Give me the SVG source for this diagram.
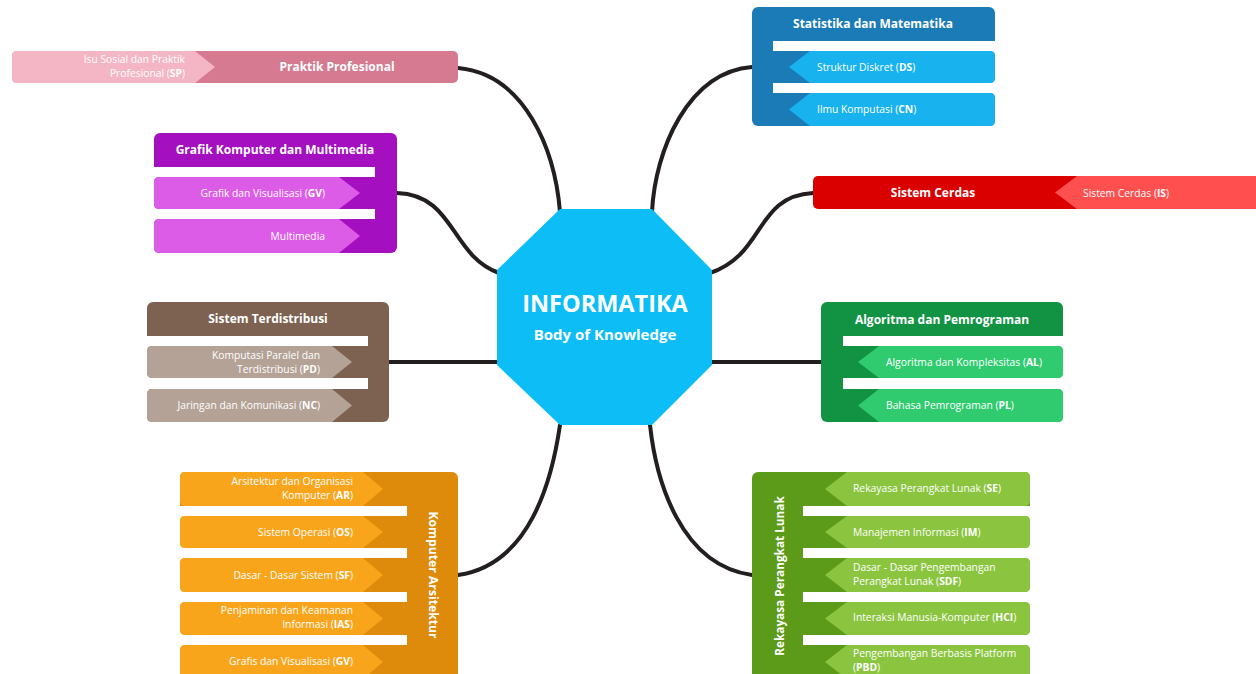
<svg xmlns="http://www.w3.org/2000/svg" width="1256" height="674" viewBox="0 0 1256 674">
<style>
text{font-family:"Open Sans","Liberation Sans",sans-serif;fill:#fff}
.h{font-size:12px;font-weight:700;text-anchor:middle}
.i{font-size:10.3px}
.r{text-anchor:end}
.b{font-weight:700}
.conn{fill:none;stroke:#231f20;stroke-width:4;stroke-linecap:round}
</style>
<rect width="1256" height="674" fill="#fff"/>
<g id="connectors">
<path class="conn" d="M458,68 C525,74 555,150 560,212"/>
<path class="conn" d="M397,193 C455,195 450,255 499,273"/>
<path class="conn" d="M389,362 H499"/>
<path class="conn" d="M458,575 C530,565 552,480 560,425"/>
<path class="conn" d="M752,67 C688,72 655,150 652,212"/>
<path class="conn" d="M813,193 C755,196 765,255 710,273"/>
<path class="conn" d="M710,362 H821"/>
<path class="conn" d="M752,575 C680,565 656,480 650,425"/>
</g>
<g id="center">
<polygon points="560,209 652,209 712,270 712,365 652,425 560,425 497,365 497,270" fill="#0dbdf6"/>
<text x="605" y="312" style="font-size:23.5px;font-weight:700;text-anchor:middle">INFORMATIKA</text>
<text x="605" y="340" style="font-size:15px;font-weight:700;text-anchor:middle">Body of Knowledge</text>
</g>
<g id="praktik-profesional">
<rect x="12" y="51" width="446" height="32" rx="5" fill="#d57a91"/>
<path d="M17,51 H195 L215,67 L195,83 H17 Q12,83 12,78 V56 Q12,51 17,51 Z" fill="#f4b5c4"/>
<text class="h" x="337" y="71">Praktik Profesional</text>
<text class="i r" x="185" y="63">Isu Sosial dan Praktik</text>
<text class="i r" x="185" y="77">Profesional (<tspan class="b">SP</tspan>)</text>
</g>
<g id="grafik-komputer">
<rect x="154" y="133" width="243" height="120" rx="6" fill="#a40fbf"/>
<rect x="154" y="167" width="221" height="86" fill="#fff"/>
<rect x="154" y="177" width="229" height="32" rx="5" fill="#a40fbf"/>
<path d="M159,177 H339 L360,193 L339,209 H159 Q154,209 154,204 V182 Q154,177 159,177 Z" fill="#dc5ce7"/>
<rect x="154" y="219" width="229" height="34" rx="5" fill="#a40fbf"/>
<path d="M159,219 H339 L360,236 L339,253 H159 Q154,253 154,248 V224 Q154,219 159,219 Z" fill="#dc5ce7"/>
<text class="h" x="275" y="154">Grafik Komputer dan Multimedia</text>
<text class="i r" x="325" y="197">Grafik dan Visualisasi (<tspan class="b">GV</tspan>)</text>
<text class="i r" x="325" y="240">Multimedia</text>
</g>
<g id="sistem-terdistribusi">
<rect x="147" y="302" width="242" height="120" rx="6" fill="#7e6251"/>
<rect x="147" y="336" width="221" height="86" fill="#fff"/>
<rect x="147" y="346" width="229" height="32" rx="5" fill="#7e6251"/>
<path d="M152,346 H332 L352,362 L332,378 H152 Q147,378 147,373 V351 Q147,346 152,346 Z" fill="#b4a296"/>
<rect x="147" y="389" width="229" height="33" rx="5" fill="#7e6251"/>
<path d="M152,389 H332 L352,405.5 L332,422 H152 Q147,422 147,417 V394 Q147,389 152,389 Z" fill="#b4a296"/>
<text class="h" x="268" y="323">Sistem Terdistribusi</text>
<text class="i r" x="320" y="359">Komputasi Paralel dan</text>
<text class="i r" x="320" y="373">Terdistribusi (<tspan class="b">PD</tspan>)</text>
<text class="i r" x="320" y="409">Jaringan dan Komunikasi (<tspan class="b">NC</tspan>)</text>
</g>
<g id="komputer-arsitektur">
<rect x="180" y="472" width="278" height="220" rx="6" fill="#de8a0b"/>
<rect x="180" y="506" width="227" height="190" fill="#fff"/>
<rect x="180" y="472" width="235" height="34" rx="5" fill="#de8a0b"/>
<path d="M185,472 H363 L383,489 L363,506 H185 Q180,506 180,501 V477 Q180,472 185,472 Z" fill="#f9a51b"/>
<rect x="180" y="516" width="235" height="32" rx="5" fill="#de8a0b"/>
<path d="M185,516 H363 L383,532 L363,548 H185 Q180,548 180,543 V521 Q180,516 185,516 Z" fill="#f9a51b"/>
<rect x="180" y="558" width="235" height="34" rx="5" fill="#de8a0b"/>
<path d="M185,558 H363 L383,575 L363,592 H185 Q180,592 180,587 V563 Q180,558 185,558 Z" fill="#f9a51b"/>
<rect x="180" y="602" width="235" height="33" rx="5" fill="#de8a0b"/>
<path d="M185,602 H363 L383,618.5 L363,635 H185 Q180,635 180,630 V607 Q180,602 185,602 Z" fill="#f9a51b"/>
<rect x="180" y="645" width="235" height="34" rx="5" fill="#de8a0b"/>
<path d="M185,645 H363 L383,662 L363,679 H185 Q180,679 180,674 V650 Q180,645 185,645 Z" fill="#f9a51b"/>
<text class="i r" x="353" y="485">Arsitektur dan Organisasi</text>
<text class="i r" x="353" y="499">Komputer (<tspan class="b">AR</tspan>)</text>
<text class="i r" x="353" y="536">Sistem Operasi (<tspan class="b">OS</tspan>)</text>
<text class="i r" x="353" y="579">Dasar - Dasar Sistem (<tspan class="b">SF</tspan>)</text>
<text class="i r" x="353" y="614">Penjaminan dan Keamanan</text>
<text class="i r" x="353" y="628">Informasi (<tspan class="b">IAS</tspan>)</text>
<text class="i r" x="353" y="665">Grafis dan Visualisasi (<tspan class="b">GV</tspan>)</text>
<text class="h" transform="translate(433,575) rotate(90)" dominant-baseline="central" style="font-size:12.2px">Komputer Arsitektur</text>
</g>
<g id="statistika-matematika">
<rect x="752" y="7" width="243" height="119" rx="6" fill="#1b7bb7"/>
<rect x="773" y="41" width="222" height="85" fill="#fff"/>
<rect x="765" y="51" width="230" height="32" rx="5" fill="#1b7bb7"/>
<path d="M810,51 H990 Q995,51 995,56 V78 Q995,83 990,83 H810 L789,67 Z" fill="#18b3ef"/>
<rect x="765" y="93" width="230" height="33" rx="5" fill="#1b7bb7"/>
<path d="M810,93 H990 Q995,93 995,98 V121 Q995,126 990,126 H810 L789,109.5 Z" fill="#18b3ef"/>
<text class="h" x="873" y="28">Statistika dan Matematika</text>
<text class="i" x="817" y="71">Struktur Diskret (<tspan class="b">DS</tspan>)</text>
<text class="i" x="817" y="113">Ilmu Komputasi (<tspan class="b">CN</tspan>)</text>
</g>
<g id="sistem-cerdas">
<rect x="813" y="176" width="460" height="33" rx="5" fill="#da0000"/>
<path d="M1077,176 H1262 V209 H1077 L1055,192.5 Z" fill="#ff4f4f"/>
<text class="h" x="933" y="197">Sistem Cerdas</text>
<text class="i" x="1083" y="197">Sistem Cerdas (<tspan class="b">IS</tspan>)</text>
</g>
<g id="algoritma-pemrograman">
<rect x="821" y="302" width="242" height="120" rx="6" fill="#129343"/>
<rect x="843" y="336" width="220" height="86" fill="#fff"/>
<rect x="835" y="346" width="228" height="32" rx="5" fill="#129343"/>
<path d="M879,346 H1058 Q1063,346 1063,351 V373 Q1063,378 1058,378 H879 L858,362 Z" fill="#30cb6f"/>
<rect x="835" y="389" width="228" height="33" rx="5" fill="#129343"/>
<path d="M879,389 H1058 Q1063,389 1063,394 V417 Q1063,422 1058,422 H879 L858,405.5 Z" fill="#30cb6f"/>
<text class="h" x="942" y="324">Algoritma dan Pemrograman</text>
<text class="i" x="886" y="366">Algoritma dan Kompleksitas (<tspan class="b">AL</tspan>)</text>
<text class="i" x="886" y="409">Bahasa Pemrograman (<tspan class="b">PL</tspan>)</text>
</g>
<g id="rekayasa-perangkat-lunak">
<rect x="752" y="472" width="278" height="220" rx="6" fill="#5b9b19"/>
<rect x="803" y="506" width="227" height="190" fill="#fff"/>
<rect x="795" y="472" width="235" height="34" rx="5" fill="#5b9b19"/>
<path d="M847,472 H1025 Q1030,472 1030,477 V501 Q1030,506 1025,506 H847 L825,489 Z" fill="#8bc53f"/>
<rect x="795" y="516" width="235" height="32" rx="5" fill="#5b9b19"/>
<path d="M847,516 H1025 Q1030,516 1030,521 V543 Q1030,548 1025,548 H847 L825,532 Z" fill="#8bc53f"/>
<rect x="795" y="558" width="235" height="34" rx="5" fill="#5b9b19"/>
<path d="M847,558 H1025 Q1030,558 1030,563 V587 Q1030,592 1025,592 H847 L825,575 Z" fill="#8bc53f"/>
<rect x="795" y="602" width="235" height="33" rx="5" fill="#5b9b19"/>
<path d="M847,602 H1025 Q1030,602 1030,607 V630 Q1030,635 1025,635 H847 L825,618.5 Z" fill="#8bc53f"/>
<rect x="795" y="645" width="235" height="34" rx="5" fill="#5b9b19"/>
<path d="M847,645 H1025 Q1030,645 1030,650 V674 Q1030,679 1025,679 H847 L825,662 Z" fill="#8bc53f"/>
<text class="i" x="853" y="492">Rekayasa Perangkat Lunak (<tspan class="b">SE</tspan>)</text>
<text class="i" x="853" y="536">Manajemen Informasi (<tspan class="b">IM</tspan>)</text>
<text class="i" x="853" y="571">Dasar - Dasar Pengembangan</text>
<text class="i" x="853" y="585">Perangkat Lunak (<tspan class="b">SDF</tspan>)</text>
<text class="i" x="853" y="621">Interaksi Manusia-Komputer (<tspan class="b">HCI</tspan>)</text>
<text class="i" x="853" y="657">Pengembangan Berbasis Platform</text>
<text class="i" x="853" y="671">(<tspan class="b">PBD</tspan>)</text>
<text class="h" transform="translate(779,576) rotate(-90)" dominant-baseline="central" style="font-size:11.8px">Rekayasa Perangkat Lunak</text>
</g>
</svg>
